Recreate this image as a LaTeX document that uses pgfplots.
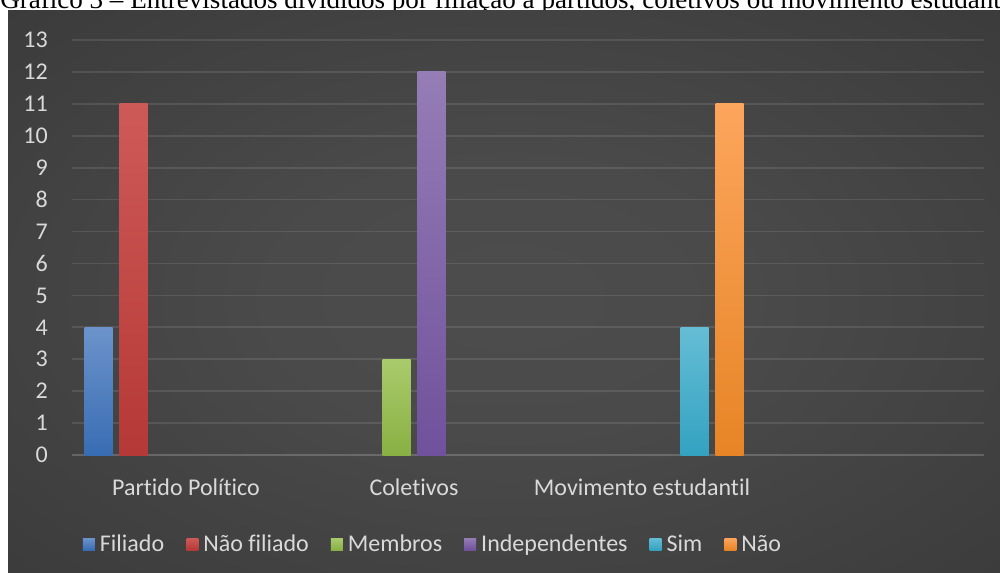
\documentclass[border=0pt]{standalone}
\usepackage{pgfplots}
\pgfplotsset{compat=1.18}
\usepackage{fontspec}
\setmainfont{Carlito}[Ligatures={NoCommon}]
\newfontfamily\titlefont{Liberation Serif}
\definecolor{txt}{HTML}{D9D9D9}
\definecolor{bluetop}{HTML}{6C93CB}
\definecolor{bluebot}{HTML}{386DB3}
\definecolor{redtop}{HTML}{CE5A58}
\definecolor{redbot}{HTML}{B53936}
\definecolor{greentop}{HTML}{AACB6C}
\definecolor{greenbot}{HTML}{88B043}
\definecolor{purptop}{HTML}{957DB6}
\definecolor{purpbot}{HTML}{70519C}
\definecolor{tealtop}{HTML}{65BDD5}
\definecolor{tealbot}{HTML}{33A2C1}
\definecolor{orngtop}{HTML}{FCA55C}
\definecolor{orngbot}{HTML}{E78526}
\pgfdeclareradialshading{bgshade}{\pgfpoint{0bp}{0bp}}{rgb(0bp)=(0.30,0.30,0.30); rgb(12bp)=(0.29,0.29,0.29); rgb(72bp)=(0.14,0.14,0.14)}
\newcommand\cf{\fontsize{18}{21.6}\selectfont}
\begin{document}
\begin{tikzpicture}
\fill[white] (-5pt,5pt) rectangle (760pt,-440pt);
\node[anchor=base west, inner sep=0pt, font=\titlefont\fontsize{20.3}{22}\selectfont] at (0pt,-6pt) {Gráfico 3 – Entrevistados divididos por filiação a partidos, coletivos ou movimento estudantil};
\shade[shading=bgshade] (6pt,-7.5pt) rectangle (760pt,-440pt);
\begin{axis}[
  at={(54pt,-341.25pt)}, anchor=south west,
  scale only axis, width=684pt, height=311.25pt,
  xmin=-0.5, xmax=3.5, ymin=0, ymax=13,
  ybar, bar width=21pt,
  xtick={0,1,2,3},
  xticklabels={Partido Político,Coletivos,Movimento estudantil,{}},
  ytick={0,1,...,13},
  /pgf/number format/assume math mode=true,
  axis line style={draw=none},
  tick style={draw=none}, major tick length=0pt,
  ymajorgrids,
  major grid style={white, opacity=0.10, line width=1.3pt},
  extra y ticks={0}, extra y tick labels={},
  extra y tick style={grid style={white!62!black, opacity=1, line width=1.6pt}},
  yticklabel style={anchor=east, inner sep=0pt, xshift=-18pt, text=txt, font=\cf},
  xticklabel style={anchor=base, inner sep=0pt, yshift=-30pt, text=txt, font=\cf},
  legend columns=-1,
  legend style={at={(0.3947,-0.2145)}, anchor=center, draw=none, fill=none,
    text=txt, font=\cf, inner sep=0pt,
    /tikz/every odd column/.append style={column sep=3.75pt},
    /tikz/every even column/.append style={column sep=16.5pt},
    nodes={inner sep=0pt}},
  legend image code/.code={\fill[#1] (0pt,-4.5pt) rectangle (9pt,4.5pt);},
]
\addplot[draw=none, top color=bluetop, bottom color=bluebot, bar shift=-65.625pt] coordinates {(0,4)};
\addlegendentry{Filiado}
\addplot[draw=none, top color=redtop, bottom color=redbot, bar shift=-39.375pt] coordinates {(0,11)};
\addlegendentry{Não filiado}
\addplot[draw=none, top color=greentop, bottom color=greenbot, bar shift=-13.125pt] coordinates {(1,3)};
\addlegendentry{Membros}
\addplot[draw=none, top color=purptop, bottom color=purpbot, bar shift=13.125pt] coordinates {(1,12)};
\addlegendentry{Independentes}
\addplot[draw=none, top color=tealtop, bottom color=tealbot, bar shift=39.375pt] coordinates {(2,4)};
\addlegendentry{Sim}
\addplot[draw=none, top color=orngtop, bottom color=orngbot, bar shift=65.625pt] coordinates {(2,11)};
\addlegendentry{Não}
\end{axis}
\pgfresetboundingbox
\path[use as bounding box] (0pt,0pt) rectangle (750pt,-429pt);
\end{tikzpicture}
\end{document}
